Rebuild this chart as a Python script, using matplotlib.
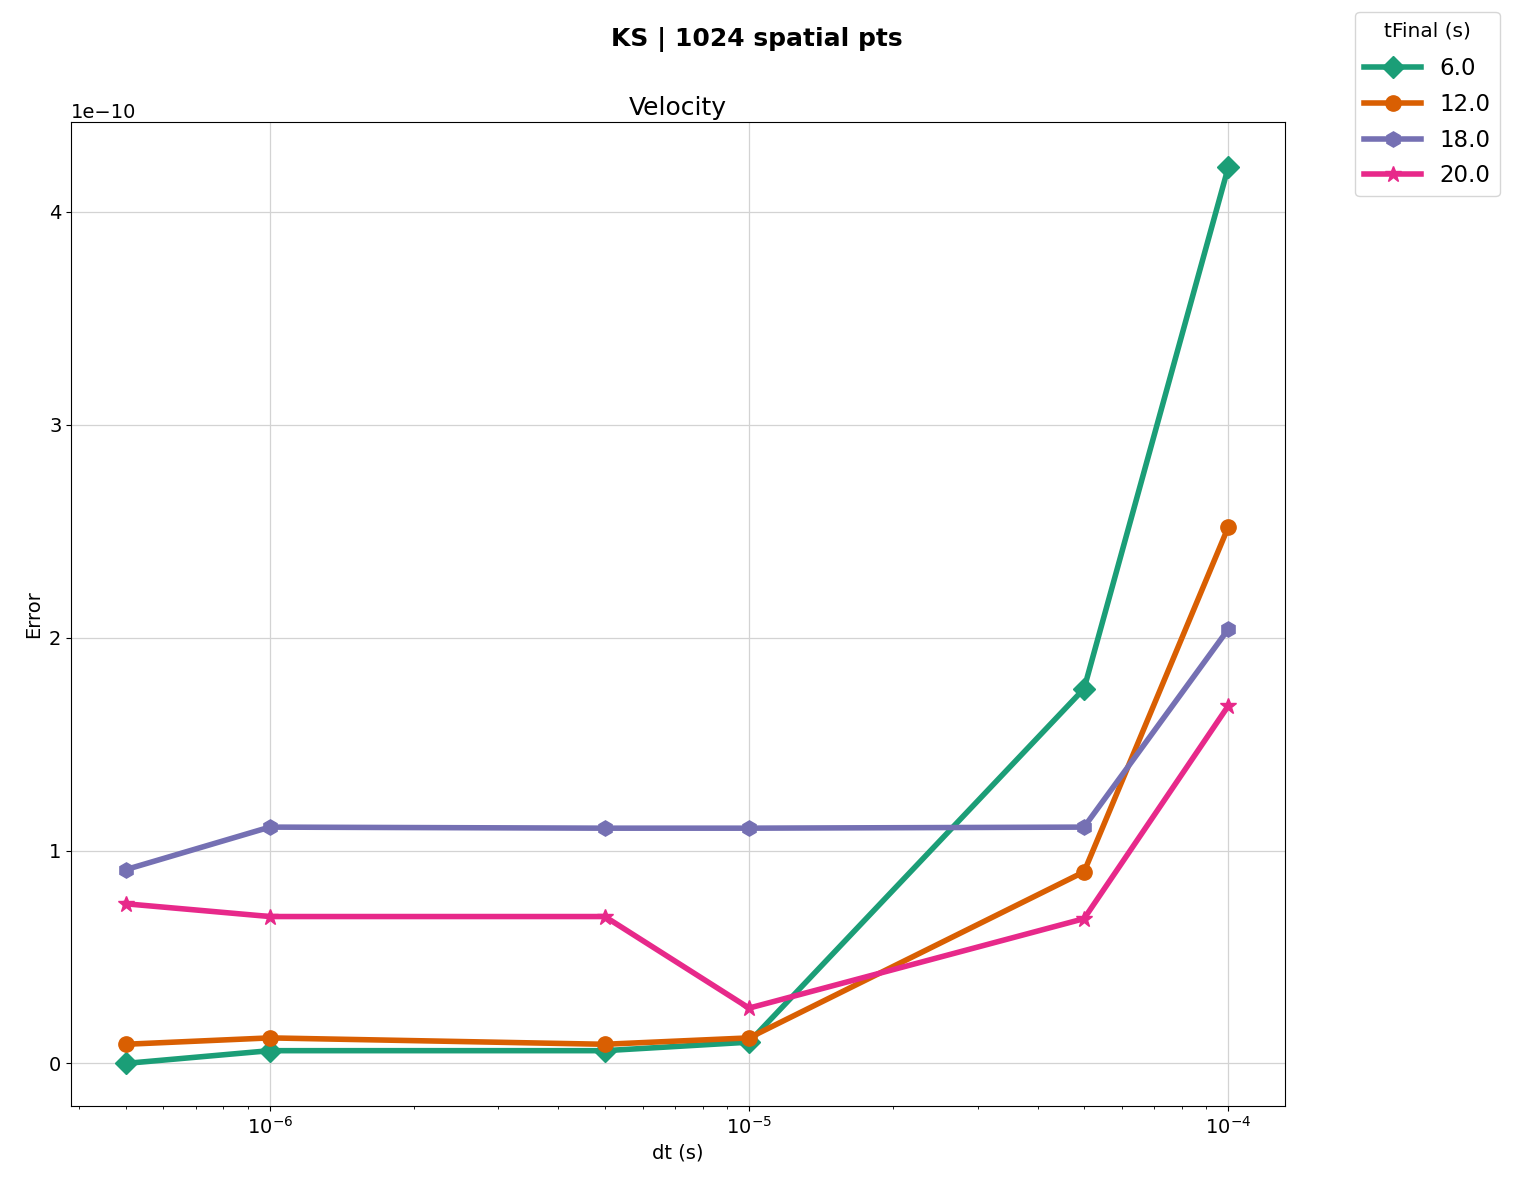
import numpy as np
import matplotlib
matplotlib.use('Agg')
import matplotlib.pyplot as plt

# 时间步长与误差数据 (单位 1e-10)
dt = [5e-7, 1e-6, 5e-6, 1e-5, 5e-5, 1e-4]
t_final = ['6.0', '12.0', '18.0', '20.0']
err_6 = [0.00, 0.06, 0.06, 0.10, 1.76, 4.21]
err_12 = [0.09, 0.12, 0.09, 0.12, 0.90, 2.52]
err_18 = [0.91, 1.11, 1.105, 1.105, 1.11, 2.04]
err_20 = [0.75, 0.69, 0.69, 0.26, 0.68, 1.68]

series = [err_6, err_12, err_18, err_20]
colors = ['#1b9e77', '#d95f02', '#7570b3', '#e7298a']
markers = ['D', 'o', 'h', '*']

fig = plt.figure(figsize=(15.13, 11.88), dpi=100)
ax = fig.add_axes([0.047, 0.069, 0.802, 0.828])

for lab, vals, c, m in zip(t_final, series, colors, markers):
    ax.plot(dt, np.array(vals) * 1e-10, color=c, marker=m, lw=4,
            markersize=11 if m != '*' else 12, label=lab)

ax.set_xscale('log')
ax.set_ylim(-0.2e-10, 4.42e-10)
ax.set_xlim(3.85e-7, 1.31e-4)
ax.grid(True, color='#d3d3d3', lw=0.9)
ax.set_axisbelow(True)
ax.set_xlabel('dt (s)', fontsize=14)
ax.set_ylabel('Error', fontsize=14)
ax.set_title('Velocity', fontsize=18, pad=5)
ax.tick_params(labelsize=14)
ax.yaxis.get_offset_text().set_fontsize(14)

fig.suptitle('KS | 1024 spatial pts', fontsize=18, fontweight='bold', y=0.977)
leg = fig.legend(title='tFinal (s)', loc='upper right', bbox_to_anchor=(0.9914, 0.990),
                 borderaxespad=0, fontsize=16.5, title_fontsize=14.5,
                 handlelength=2.5, labelspacing=0.55)
leg._legend_box.sep = 12.5  # 标题与条目之间多留一点空

fig.savefig('out.png', dpi=100)
